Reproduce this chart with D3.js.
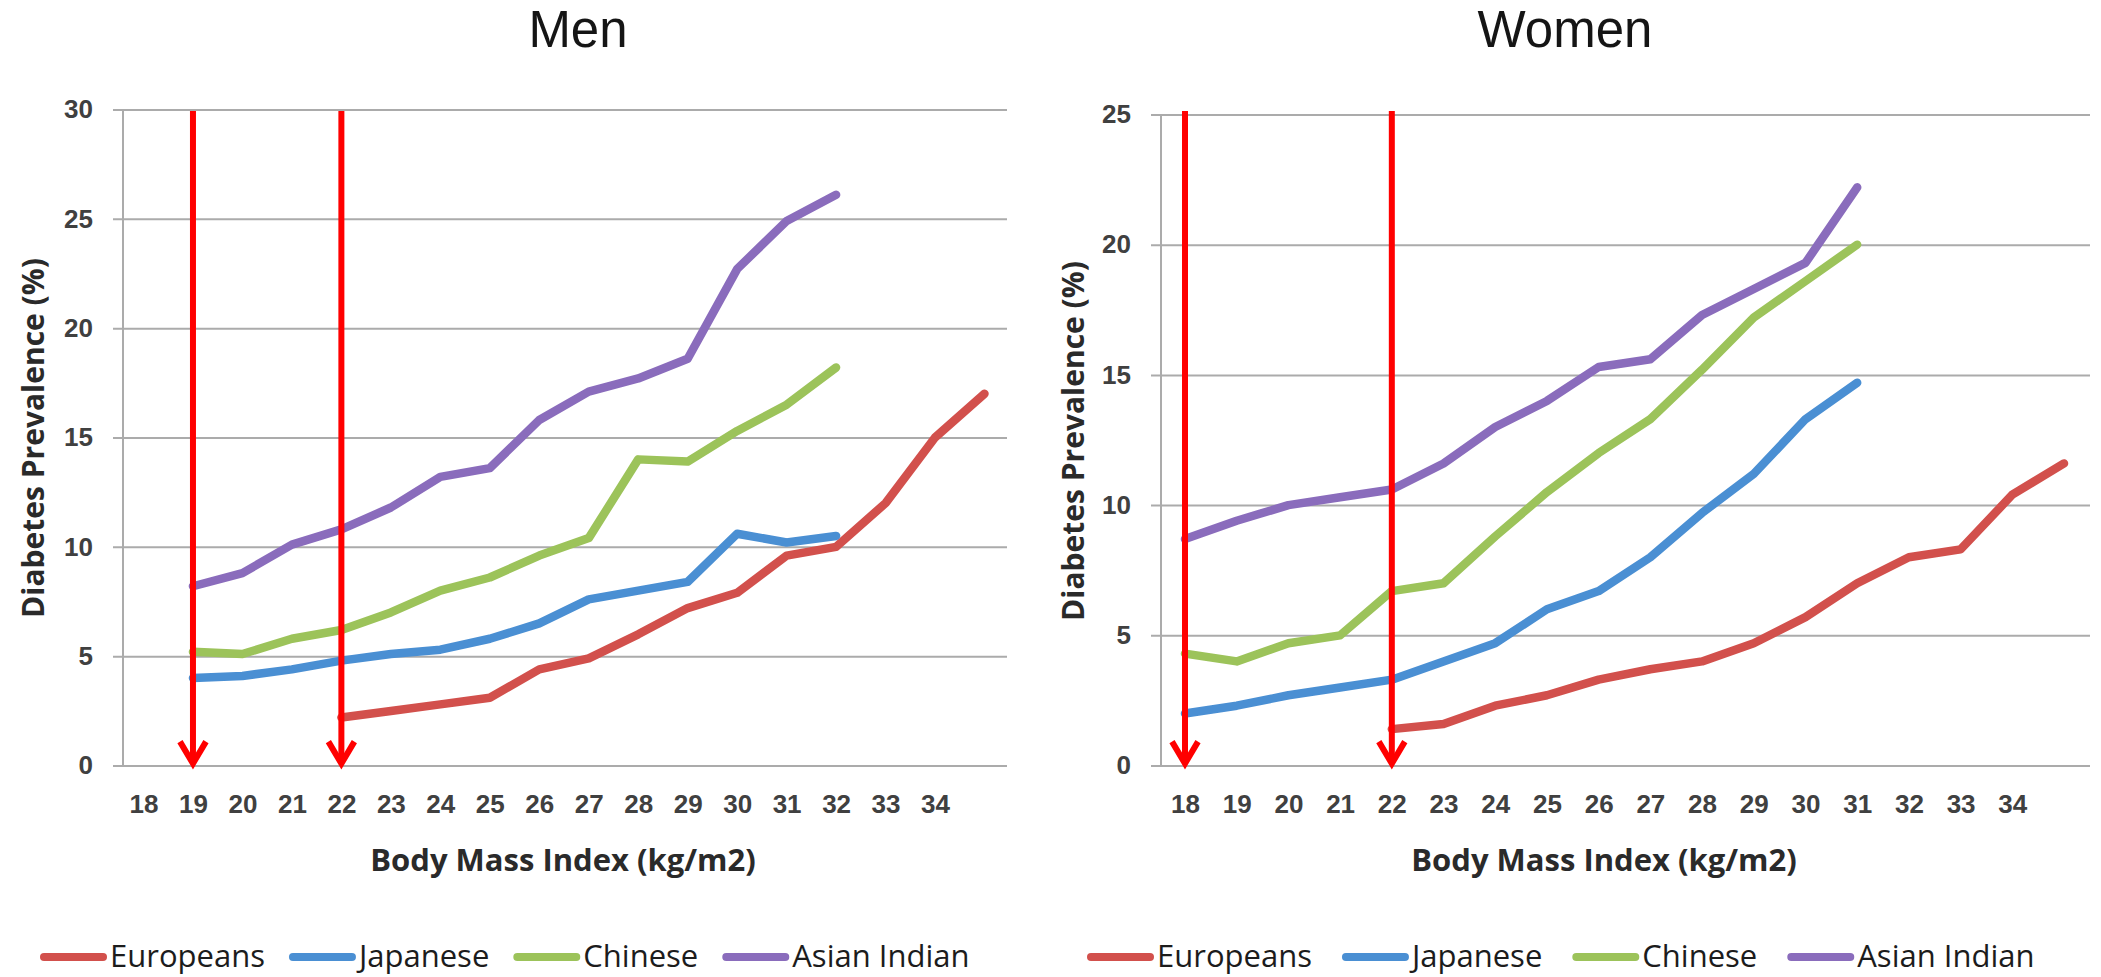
<!DOCTYPE html>
<html>
<head>
<meta charset="utf-8">
<script src="https://cdn.jsdelivr.net/npm/d3@7"></script>
<style>
  html, body { margin: 0; padding: 0; background: #ffffff; }
  svg { display: block; font-family: "Open Sans", "Noto Sans", sans-serif; }
</style>
</head>
<body>
<script>
// BMI categories along the x axis (kg/m2)
const bmiCategories = ["18","19","20","21","22","23","24","25","26","27","28","29","30","31","32","33","34","35"];
// Printed tick labels (the last category carries no label)
const bmiTickLabels = ["18","19","20","21","22","23","24","25","26","27","28","29","30","31","32","33","34",""];

const seriesNames = ["Europeans", "Japanese", "Chinese", "Asian Indian"];

// Diabetes prevalence (%) by BMI category, men
const menEuropeans   = [null, null, null, null, 2.2, 2.5, 2.8, 3.1, 4.4, 4.9, 6.0, 7.2, 7.9, 9.6, 10.0, 12.0, 15.0, 17.0];
const menJapanese    = [null, 4.0, 4.1, 4.4, 4.8, 5.1, 5.3, 5.8, 6.5, 7.6, 8.0, 8.4, 10.6, 10.2, 10.5, null, null, null];
const menChinese     = [null, 5.2, 5.1, 5.8, 6.2, 7.0, 8.0, 8.6, 9.6, 10.4, 14.0, 13.9, 15.3, 16.5, 18.2, null, null, null];
const menAsianIndian = [null, 8.2, 8.8, 10.1, 10.8, 11.8, 13.2, 13.6, 15.8, 17.1, 17.7, 18.6, 22.7, 24.9, 26.1, null, null, null];

// Diabetes prevalence (%) by BMI category, women
const womenEuropeans   = [null, null, null, null, 1.4, 1.6, 2.3, 2.7, 3.3, 3.7, 4.0, 4.7, 5.7, 7.0, 8.0, 8.3, 10.4, 11.6];
const womenJapanese    = [2.0, 2.3, 2.7, 3.0, 3.3, 4.0, 4.7, 6.0, 6.7, 8.0, 9.7, 11.2, 13.3, 14.7, null, null, null, null];
const womenChinese     = [4.3, 4.0, 4.7, 5.0, 6.7, 7.0, 8.8, 10.5, 12.0, 13.3, 15.2, 17.2, 18.6, 20.0, null, null, null, null];
const womenAsianIndian = [8.7, 9.4, 10.0, 10.3, 10.6, 11.6, 13.0, 14.0, 15.3, 15.6, 17.3, 18.3, 19.3, 22.2, null, null, null, null];

// Y axis ticks
const menYTicks   = [0, 5, 10, 15, 20, 25, 30];
const womenYTicks = [0, 5, 10, 15, 20, 25];

// BMI cut-off points marked with arrows
const menCutoffs   = ["19", "22"];
const womenCutoffs = ["18", "22"];

// Styling
const seriesColors = ["#d2504c", "#4a8fd3", "#9cc35a", "#8a6cbc"];
const arrowColor = "#ff0000";
const gridColor = "#ababab";

const W = 2101, H = 977;
const svg = d3.select("body").append("svg").attr("width", W).attr("height", H);

const panels = [
  {
    title: "Men",
    series: [menEuropeans, menJapanese, menChinese, menAsianIndian],
    yMax: 30, yTicks: menYTicks, cutoffs: menCutoffs,
    left: 123, right: 1007, top: 109.4, bottom: 765.6,
    xFirst: 143.5, xLast: 984.5,
    titleX: 578, yTitleX: 32, yTitleY: 438, xTitleX: 563,
    legendStart: 40, legendGap: 24
  },
  {
    title: "Women",
    series: [womenEuropeans, womenJapanese, womenChinese, womenAsianIndian],
    yMax: 25, yTicks: womenYTicks, cutoffs: womenCutoffs,
    left: 1161, right: 2090, top: 114.4, bottom: 765.6,
    xFirst: 1185, xLast: 2064,
    titleX: 1565, yTitleX: 1072, yTitleY: 441, xTitleX: 1604,
    legendStart: 1087, legendGap: 30
  }
];

panels.forEach(p => {
  const g = svg.append("g");

  const x = d3.scalePoint().domain(bmiCategories).range([p.xFirst, p.xLast]);
  const y = d3.scaleLinear().domain([0, p.yMax]).range([p.bottom, p.top]);

  // Title
  g.append("text")
    .attr("x", p.titleX).attr("y", 47)
    .attr("text-anchor", "middle")
    .style("font-family", "'Liberation Sans', Arial, sans-serif")
    .style("font-size", "51px")
    .style("fill", "#151515")
    .text(p.title);

  // Horizontal gridlines with outward ticks and value labels
  const yAxis = d3.axisLeft(y)
    .tickValues(p.yTicks)
    .tickSize(-(p.right - p.left + 10))
    .tickPadding(20)
    .tickFormat(d3.format("d"));
  const yg = g.append("g")
    .attr("transform", `translate(${p.left - 10},0)`)
    .call(yAxis);
  yg.select(".domain").remove();
  yg.selectAll(".tick line").attr("stroke", gridColor).attr("stroke-width", 2);
  yg.selectAll(".tick text")
    .style("font-size", "26px")
    .style("font-weight", "600")
    .style("fill", "#404040");

  // Vertical axis line
  g.append("line")
    .attr("x1", p.left).attr("x2", p.left)
    .attr("y1", y(p.yMax)).attr("y2", y(0))
    .attr("stroke", gridColor).attr("stroke-width", 2);

  // Category labels
  const xAxis = d3.axisBottom(x)
    .tickSize(0)
    .tickPadding(29)
    .tickFormat((d, i) => bmiTickLabels[i]);
  const xg = g.append("g")
    .attr("transform", `translate(0,${p.bottom})`)
    .call(xAxis);
  xg.select(".domain").remove();
  xg.selectAll(".tick text")
    .style("font-size", "26px")
    .style("font-weight", "600")
    .style("fill", "#404040");

  // Axis titles
  g.append("text")
    .attr("transform", `translate(${p.yTitleX},${p.yTitleY}) rotate(-90)`)
    .attr("text-anchor", "middle")
    .attr("dominant-baseline", "central")
    .style("font-size", "30px")
    .style("font-weight", "700")
    .style("fill", "#2a2a2a")
    .text("Diabetes Prevalence (%)");

  g.append("text")
    .attr("x", p.xTitleX).attr("y", 871)
    .attr("text-anchor", "middle")
    .style("font-size", "31px")
    .style("font-weight", "700")
    .style("fill", "#2a2a2a")
    .text("Body Mass Index (kg/m2)");

  // Series lines
  const line = d3.line()
    .defined(d => d.v !== null)
    .x(d => x(d.c))
    .y(d => y(d.v));

  p.series.forEach((vals, si) => {
    const pts = bmiCategories.map((c, i) => ({ c, v: vals[i] }));
    g.append("path")
      .datum(pts)
      .attr("d", line)
      .attr("fill", "none")
      .attr("stroke", seriesColors[si])
      .attr("stroke-width", 8.5)
      .attr("stroke-linejoin", "round")
      .attr("stroke-linecap", "round");
  });

  // Cut-off arrows
  p.cutoffs.forEach(c => {
    const ax = x(c);
    const top = 111, tip = y(0);
    g.append("line")
      .attr("x1", ax).attr("x2", ax)
      .attr("y1", top).attr("y2", tip - 3)
      .attr("stroke", arrowColor).attr("stroke-width", 6);
    g.append("path")
      .attr("d", `M${ax - 13},${tip - 24} L${ax},${tip - 2} L${ax + 13},${tip - 24}`)
      .attr("fill", "none")
      .attr("stroke", arrowColor)
      .attr("stroke-width", 6)
      .attr("stroke-linejoin", "miter");
  });

  // Legend
  const legendY = 957;
  let lx = p.legendStart;
  seriesNames.forEach((name, si) => {
    const item = g.append("g").attr("transform", `translate(${lx},${legendY})`);
    item.append("line")
      .attr("x1", 4).attr("x2", 63)
      .attr("y1", 0).attr("y2", 0)
      .attr("stroke", seriesColors[si])
      .attr("stroke-width", 8)
      .attr("stroke-linecap", "round");
    const t = item.append("text")
      .attr("x", 70).attr("y", 10)
      .style("font-size", "31px")
      .style("fill", "#1c1c1c")
      .text(name);
    const tw = t.node().getComputedTextLength();
    lx += 70 + tw + p.legendGap;
  });
});
</script>
</body>
</html>
